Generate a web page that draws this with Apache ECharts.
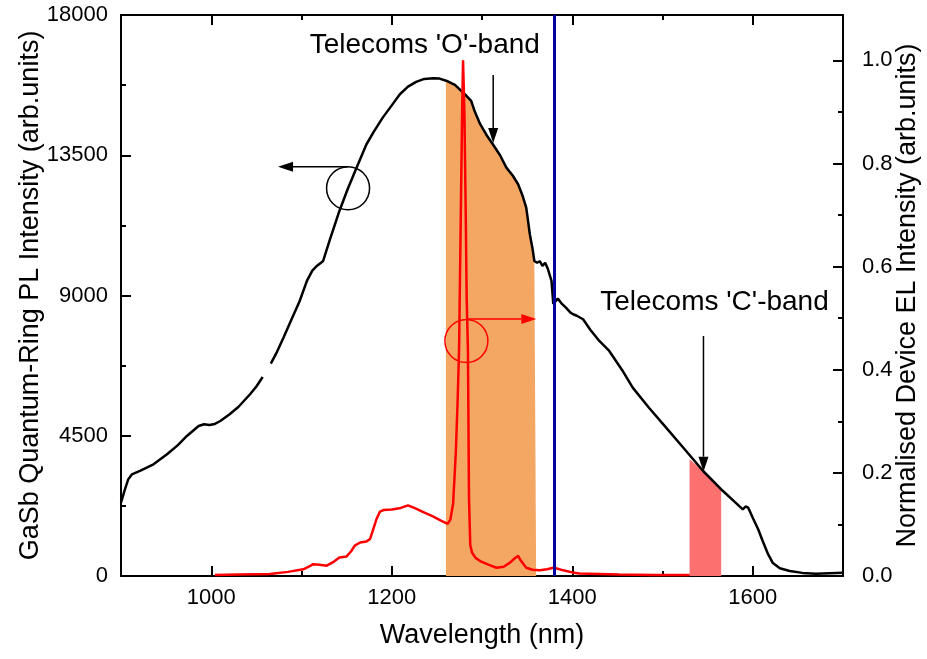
<!DOCTYPE html>
<html><head><meta charset="utf-8">
<script src="https://cdn.jsdelivr.net/npm/echarts@6/dist/echarts.min.js"></script>
<style>html,body{margin:0;padding:0;background:#fff;overflow:hidden}#c{width:927px;height:659px}</style>
</head><body><div id="c"></div>
<script>
// ---- data ----
const plWavelength = [900,904,908,912,921,936,951,963,973,986,992,998,1004,1010,1020,1030,1043,1050,1057,1061,1066,1073,1080,1089,1098,1106,1112,1117,1124,1131,1142,1151,1161,1172,1180,1190,1200,1209,1218,1227,1236,1246,1253,1261,1270,1277,1283,1288,1292,1298,1305,1312,1320,1327,1334,1340,1345,1349,1351,1353,1356,1358,1361,1364,1367,1370,1373,1377,1379,1381,1384,1386,1388,1390,1393,1395,1398,1401,1405,1412,1420,1430,1441,1455,1467,1485,1504,1525,1545,1567,1580,1589,1592,1595,1600,1606,1611,1617,1622,1630,1641,1655,1670,1685,1700];
const plIntensity = [2350,2750,3100,3260,3370,3584,3905,4200,4493,4814,4870,4846,4880,4974,5180,5423,5831,6080,6386,null,6813,7200,7647,8237,8825,9467,9800,9948,10108,10750,11713,12400,13102,13853,14250,14707,15100,15458,15700,15852,15950,15971,15960,15884,15760,15564,15400,15243,14900,14495,14150,13853,13500,13102,12850,12569,12200,11819,11400,10965,10500,10108,10050,10100,9950,10050,9850,9467,8729,8700,8900,8931,8750,8800,8610,8650,8450,8398,8350,8237,7900,7541,7220,6620,6043,5400,4759,4050,3369,2727,2380,2140,2230,2192,1871,1500,1123,700,427,250,160,100,74,90,106];

const elWavelength = [1004,1030,1065,1085,1102,1108,1113,1120,1128,1136,1142,1150,1155,1159,1165,1172,1176,1179,1183,1187,1191,1200,1210,1218,1225,1235,1245,1255,1262,1265,1268,1271,1273,1274.6,1276.5,1278,1279,1280.5,1282,1283,1284.4,1285.6,1287,1289,1293,1298,1307,1316,1324,1331,1336,1340,1343,1349,1356,1364,1372,1379,1384,1390,1400,1408,1430,1452,1490,1530];
const elIntensity = [0.002,0.003,0.004,0.008,0.013,0.018,0.023,0.022,0.020,0.028,0.036,0.038,0.048,0.059,0.065,0.067,0.072,0.088,0.11,0.125,0.128,0.129,0.132,0.137,0.132,0.124,0.116,0.107,0.101,0.11,0.14,0.24,0.34,0.44,0.70,0.90,1.0,0.90,0.70,0.54,0.44,0.15,0.06,0.045,0.035,0.029,0.022,0.016,0.018,0.026,0.034,0.039,0.03,0.016,0.012,0.011,0.013,0.016,0.014,0.011,0.007,0.005,0.004,0.003,0.002,0.002];

const oBandWavelength = [1260,1270,1277,1283,1288,1292,1298,1305,1312,1320,1327,1334,1340,1345,1349,1351,1353,1356,1358,1360];
const oBandIntensity  = [15884,15760,15564,15400,15243,14900,14495,14150,13853,13500,13102,12850,12569,12200,11819,11400,10965,10500,10108,10050];
const cBandWavelength = [1530,1545,1565];
const cBandIntensity  = [3745,3369,2790];

const markerWavelength = 1380;

const xMajorTicks = [1000,1200,1400,1600];
const xMinorTicks = [1100,1300,1500];
const yLeftMajorTicks = [0,4500,9000,13500,18000];
const yLeftMinorTicks = [2250,6750,11250,15750];
const yRightMajorTicks = [0,0.2,0.4,0.6,0.8,1.0];
const yRightMinorTicks = [0.1,0.3,0.5,0.7,0.9];

// annotations in data coordinates: [text, wavelength, value, axis]
const annoTexts = [["Telecoms 'O'-band",1236.6,17037,'left'],["Telecoms 'C'-band",1557.6,8792,'left']];
// arrows: [x1,y1,x2,y2,axis,color]
const annoArrows = [[1312.4,16075,1312.4,13893,'left','#000'],[1545.4,7701,1545.4,3347,'left','#000'],[1151.5,13133,1074,13133,'left','#000'],[1282.7,0.4984,1360.2,0.4984,'right','#ff0000']];
// circles: [x,y,axis,color]
const annoCircles = [[1151.6,12440,'left','#000'],[1282.7,0.4558,'right','#ff0000']];

const FONT = "'Liberation Sans', Arial, Helvetica, sans-serif";
const zip = (a,b)=>a.map((v,i)=>[v,b[i]]);

function xAxisDef(pos, ticks, len, showLine, labels, name) {
  return {
    type:'value', position:pos, min:900, max:1700, offset:0,
    axisLine:{show:showLine, onZero:false, lineStyle:{color:'#000', width:2}},
    axisTick:{show:true, inside:true, length:len, customValues:ticks, lineStyle:{color:'#000', width:2}},
    axisLabel:{show:labels, customValues:ticks, color:'#000', fontSize:22, fontFamily:FONT, margin:11, formatter:v=>String(v)},
    splitLine:{show:false},
    name: name||'', nameLocation:'middle', nameGap:46, nameMoveOverlap:false,
    nameTextStyle:{color:'#000', fontSize:27, fontFamily:FONT}
  };
}
function yAxisDef(pos, min, max, ticks, len, showLine, labels, name, gap, fmt, margin) {
  return {
    type:'value', position:pos, min:min, max:max, offset:0,
    axisLine:{show:showLine, onZero:false, lineStyle:{color:'#000', width:2}},
    axisTick:{show:true, inside:true, length:len, customValues:ticks, lineStyle:{color:'#000', width:2}},
    axisLabel:{show:labels, customValues:ticks, color:'#000', fontSize:22, fontFamily:FONT, margin:margin, formatter:fmt},
    splitLine:{show:false},
    name:name||'', nameLocation:'middle', nameRotate:90, nameGap:gap, nameMoveOverlap:false,
    nameTextStyle:{color:'#000', fontSize:27, fontFamily:FONT}
  };
}

const option = {
  animation:false,
  backgroundColor:'#fff',
  grid:{left:121, right:84, top:15, bottom:83, containLabel:false, outerBoundsMode:'none'},
  xAxis:[
    xAxisDef('bottom', xMajorTicks, 10, true, true, 'Wavelength (nm)'),
    xAxisDef('bottom', xMinorTicks, 5, false, false),
    xAxisDef('top', xMajorTicks, 10, true, false),
    xAxisDef('top', xMinorTicks, 5, false, false)
  ],
  yAxis:[
    yAxisDef('left', 0, 18000, yLeftMajorTicks, 10, true, true, 'GaSb Quantum-Ring PL Intensity (arb.units)', 77, v=>String(v), 13),
    yAxisDef('left', 0, 18000, yLeftMinorTicks, 5, false, false, '', 0, null, 8),
    yAxisDef('right', 0, 1.088, yRightMajorTicks, 10, true, true, 'Normalised Device EL Intensity (arb.units)', 51, v=>Number(v).toFixed(1), 19),
    yAxisDef('right', 0, 1.088, yRightMinorTicks, 5, false, false, '', 0, null, 8)
  ],
  series:[
    {type:'line', name:'O-band', xAxisIndex:0, yAxisIndex:0, data:zip(oBandWavelength,oBandIntensity),
     showSymbol:false, lineStyle:{width:0}, areaStyle:{color:'#F4A663', opacity:1}, z:1, silent:true},
    {type:'line', name:'C-band', xAxisIndex:0, yAxisIndex:0, data:zip(cBandWavelength,cBandIntensity),
     showSymbol:false, lineStyle:{width:0}, areaStyle:{color:'#FC7070', opacity:1}, z:1, silent:true},
    {type:'line', name:'PL', xAxisIndex:0, yAxisIndex:0, data:zip(plWavelength,plIntensity),
     showSymbol:false, connectNulls:false, lineStyle:{color:'#000', width:2.5}, z:3, silent:true,
     markLine:{silent:true, symbol:['none','none'], label:{show:false},
       lineStyle:{color:'#00009C', width:3, type:'solid'}, data:[{xAxis:markerWavelength}]}},
    {type:'line', name:'EL', xAxisIndex:0, yAxisIndex:2, data:zip(elWavelength,elIntensity),
     showSymbol:false, lineStyle:{color:'#ff0000', width:2.5}, z:4, silent:true}
  ]
};

const chart = echarts.init(document.getElementById('c'));
chart.setOption(option);

function px(x, y, axis) {
  const yi = axis==='right' ? 2 : 0;
  return [chart.convertToPixel({xAxisIndex:0}, x), chart.convertToPixel({yAxisIndex:yi}, y)];
}
const g = [];
annoTexts.forEach(t=>{
  const p = px(t[1],t[2],t[3]);
  g.push({type:'text', x:p[0], y:p[1], z:100, silent:true,
    style:{text:t[0], fill:'#000', fontSize:28, fontFamily:FONT, align:'center', verticalAlign:'middle', textAlign:'center', textVerticalAlign:'middle'}});
});
annoArrows.forEach(a=>{
  const p1 = px(a[0],a[1],a[4]), p2 = px(a[2],a[3],a[4]);
  const dx = p2[0]-p1[0], dy = p2[1]-p1[1], L = Math.hypot(dx,dy), ux = dx/L, uy = dy/L;
  const hl = 15, hw = 5;
  const bx = p2[0]-ux*hl, by = p2[1]-uy*hl;
  g.push({type:'line', z:100, silent:true, shape:{x1:p1[0], y1:p1[1], x2:bx, y2:by}, style:{stroke:a[5], lineWidth:1.5}});
  g.push({type:'polygon', z:100, silent:true, shape:{points:[[p2[0],p2[1]],[bx-uy*hw,by+ux*hw],[bx+uy*hw,by-ux*hw]]}, style:{fill:a[5]}});
});
annoCircles.forEach(c=>{
  const p = px(c[0],c[1],c[2]);
  g.push({type:'circle', z:100, silent:true, shape:{cx:p[0], cy:p[1], r:21.5}, style:{fill:'none', stroke:c[3], lineWidth:1.5}});
});
chart.setOption({graphic:g});
</script>
</body></html>
